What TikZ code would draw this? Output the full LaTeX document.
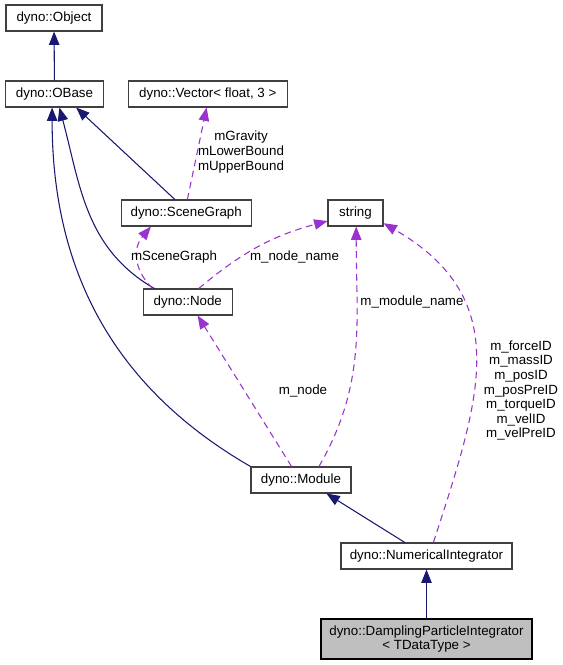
\documentclass[tikz,border=0pt]{standalone}
\usepackage{fontspec}
\setmainfont{Liberation Sans}
\usetikzlibrary{arrows.meta}
\definecolor{edgeblue}{RGB}{25,25,112}
\definecolor{edgepurple}{RGB}{154,50,205}
\definecolor{boxgray}{RGB}{191,191,191}
\definecolor{boxline}{RGB}{64,64,64}
\begin{document}
\begin{tikzpicture}[x=0.75pt,y=-0.75pt,
    cls/.style={draw=boxline,line width=0.8pt,fill=white,minimum height=19.5pt,inner sep=0pt,
      font=\fontsize{10pt}{10pt}\selectfont},
    lbl/.style={inner sep=0pt,align=center,font=\fontsize{10pt}{10.95pt}\selectfont},
    inherit/.style={color=edgeblue,line width=0.8pt,-{Triangle[length=10pt,width=7.8pt]}},
    uses/.style={color=edgepurple,line width=0.8pt,dash pattern=on 5pt off 3.5pt,
      -{Triangle[length=10pt,width=7.8pt]}}]
    \useasboundingbox (0,0) rectangle (563,665);
    % classes
    \node[cls,minimum width=72pt] (obj) at (54,18) {dyno::Object};
    \node[cls,minimum width=74pt] (obase) at (54.5,94) {dyno::OBase};
    \node[cls,minimum width=119.25pt] (vec) at (207.8,94) {dyno::Vector< float, 3 >};
    \node[cls,minimum width=97.5pt] (sg) at (186.2,213) {dyno::SceneGraph};
    \node[cls,minimum width=66.75pt] (node) at (187.8,302) {dyno::Node};
    \node[cls,minimum width=41.25pt] (str) at (355.5,213) {string};
    \node[cls,minimum width=75pt] (mod) at (301,480) {dyno::Module};
    \node[cls,minimum width=128.25pt] (ni) at (426.5,556) {dyno::NumericalIntegrator};
    \node[cls,fill=boxgray,draw=black,minimum width=158.25pt,minimum height=30pt,align=center]
      (dpi) at (426.5,639) {dyno::DamplingParticleIntegrator\\< TDataType >};

    % inheritance
    \draw[inherit] (obase) -- (obj);
    \draw[inherit] (sg.130) -- (obase.-32);
    \draw[inherit] (node.158) to[out=150,in=-75] (obase.-70);
    \draw[inherit] (mod.north west) to[out=150,in=-90] (obase.-100);
    \draw[inherit] (ni.148) -- (mod.-28);
    \draw[inherit] (dpi) -- (ni);

    % usage
    \draw[uses] (sg.85) -- (vec.-95);
    \draw[uses] (node.159) to[out=135,in=-130,looseness=1.15] (sg.-159);
    \draw[uses] (node.51) to[out=40,in=-165] (str.-164);
    \draw[uses] (mod.125) -- (node.-54);
    \draw[uses] (mod.37) to[out=60,in=-90] (str.-87);
    \draw[uses] (ni.63) to[out=72,in=-30,looseness=1.2] (str.-20);

    % labels
    \node[lbl] (lvec) at (241,152) {mGravity\\mLowerBound\\mUpperBound};
    \node[lbl] (lsg) at (174,257) {mSceneGraph};
    \node[lbl] (lname) at (294.5,257) {m\_node\_name};
    \node[lbl] (lmodname) at (412,302) {m\_module\_name};
    \node[lbl] (lnode) at (303,391) {m\_node};
    \node[lbl] (lids) at (521,390.5) {m\_forceID\\m\_massID\\m\_posID\\m\_posPreID\\m\_torqueID\\m\_velID\\m\_velPreID};
\end{tikzpicture}
\end{document}
